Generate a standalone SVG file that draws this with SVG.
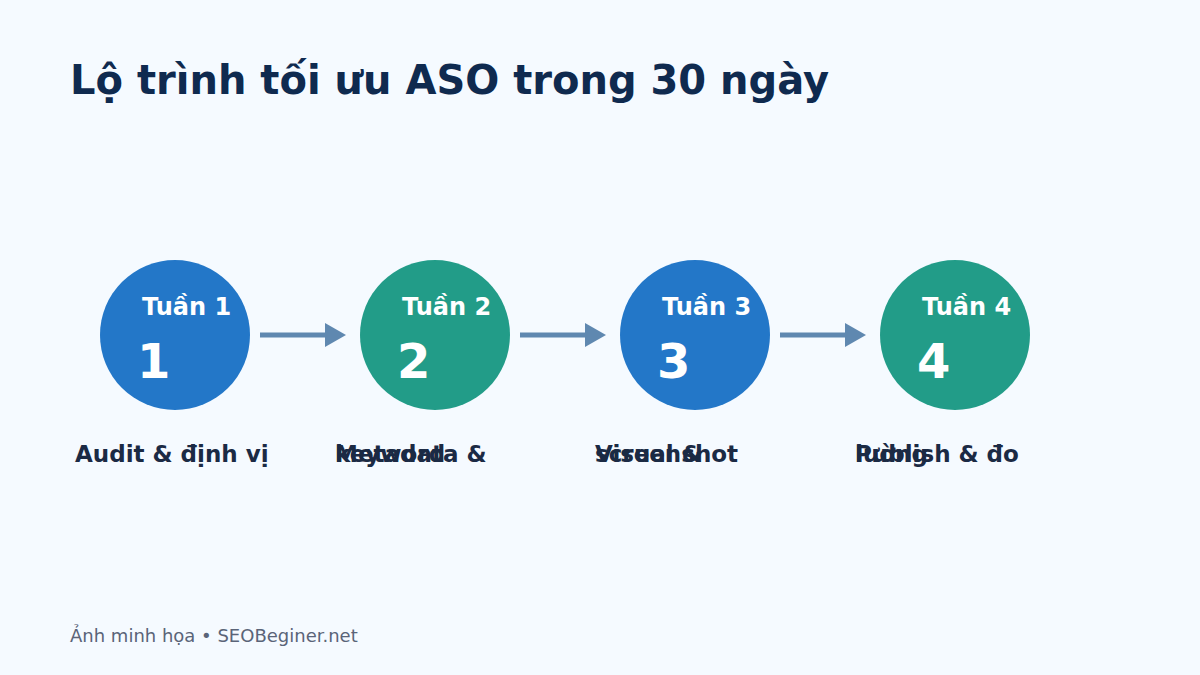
<svg xmlns="http://www.w3.org/2000/svg" width="1200" height="675" viewBox="0 0 1200 675">
<defs>
<style>
.t{font-family:"DejaVu Sans","Noto Sans",sans-serif;font-weight:bold}
.title{font-size:40px;fill:#0f2a4f}
.wk{font-size:24px;fill:#ffffff}
.num{font-size:48px;fill:#ffffff}
.lbl{font-size:23px;fill:#1b2a44}
.foot{font-family:"DejaVu Sans","Noto Sans",sans-serif;font-size:18px;fill:#5a6478}
.blue{fill:#2377c8}
.teal{fill:#229c88}
.conn line{stroke:#5f88b0;stroke-width:5}
.conn polygon{fill:#5f88b0}
</style>
</defs>
<rect width="1200" height="675" fill="#f5faff"/>
<text class="t title" x="70" y="94">Lộ trình tối ưu ASO trong 30 ngày</text>
<g class="conn" id="connectors">
<line x1="260" y1="335" x2="332" y2="335"/><polygon points="325,323 346,335 325,347"/>
<line x1="520" y1="335" x2="592" y2="335"/><polygon points="585,323 606,335 585,347"/>
<line x1="780" y1="335" x2="852" y2="335"/><polygon points="845,323 866,335 845,347"/>
</g>
<g id="node1">
<circle class="blue" cx="175" cy="335" r="75"/>
<text class="t wk" x="142" y="315">Tuần 1</text>
<text class="t num" x="137" y="378">1</text>
<text class="t lbl" x="75" y="462">Audit &amp; định vị</text>
</g>
<g id="node2">
<circle class="teal" cx="435" cy="335" r="75"/>
<text class="t wk" x="402" y="315">Tuần 2</text>
<text class="t num" x="397" y="378">2</text>
<text class="t lbl" x="335" y="462">Metadata &amp;</text>
<text class="t lbl" x="335" y="462">keyword</text>
</g>
<g id="node3">
<circle class="blue" cx="695" cy="335" r="75"/>
<text class="t wk" x="662" y="315">Tuần 3</text>
<text class="t num" x="657" y="378">3</text>
<text class="t lbl" x="595" y="462">Visual &amp;</text>
<text class="t lbl" x="595" y="462">screenshot</text>
</g>
<g id="node4">
<circle class="teal" cx="955" cy="335" r="75"/>
<text class="t wk" x="922" y="315">Tuần 4</text>
<text class="t num" x="917" y="378">4</text>
<text class="t lbl" x="855" y="462">Publish &amp; đo</text>
<text class="t lbl" x="855" y="462">lường</text>
</g>
<text class="foot" x="70" y="642">Ảnh minh họa • SEOBeginer.net</text>
</svg>
